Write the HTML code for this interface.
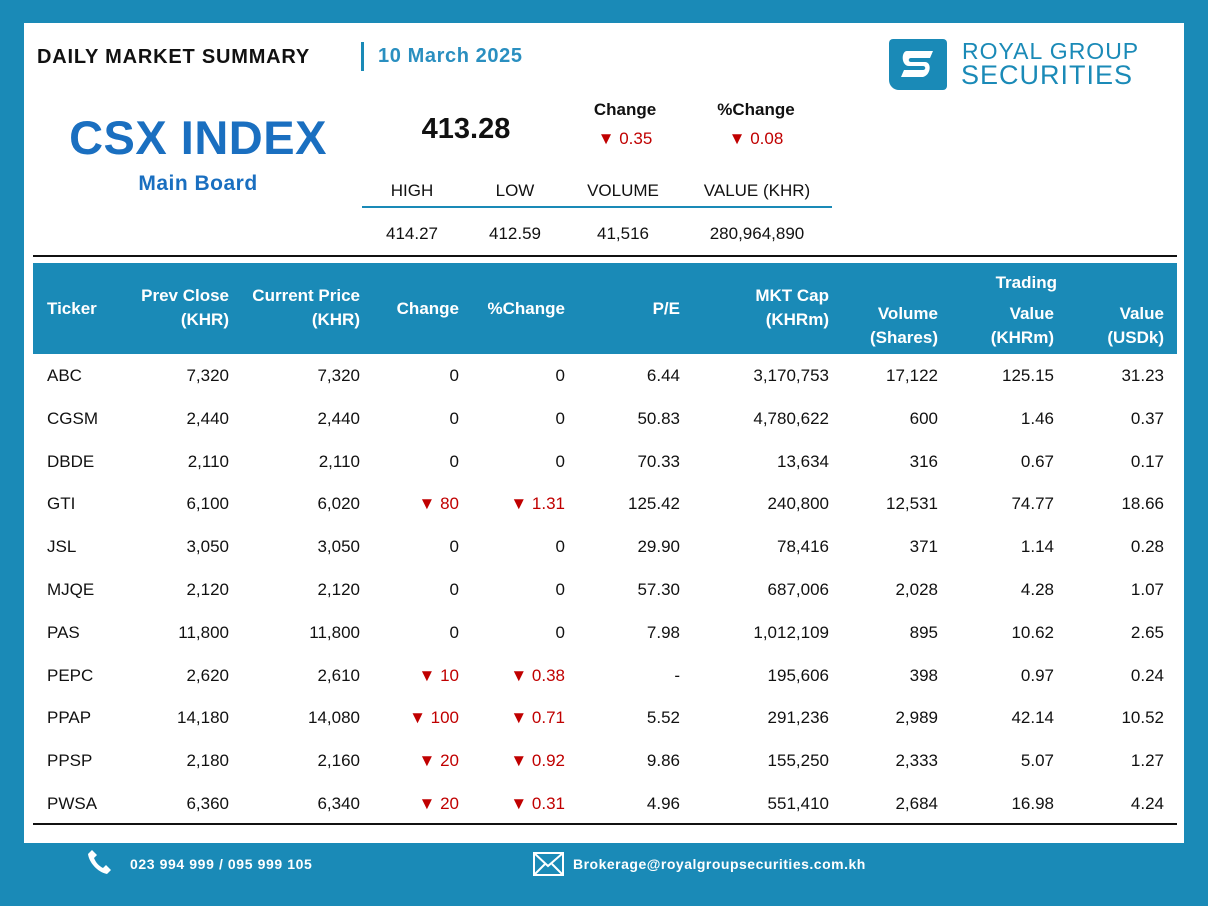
<!DOCTYPE html>
<html><head><meta charset="utf-8"><style>
body{margin:0;width:1208px;height:906px;background:#1a8ab7;font-family:"Liberation Sans",sans-serif;position:relative;overflow:hidden}
.a{position:absolute;white-space:nowrap}
#panel{position:absolute;left:24px;top:23px;width:1160px;height:820px;background:#fff}
.hd{color:#fff;font-weight:bold;font-size:17px;line-height:24px}
.c{font-size:17px;color:#111}
.red{color:#c00000}
</style></head><body>
<div id="panel"></div>
<div class="a" style="left:37px;top:46px;font-size:20px;font-weight:bold;color:#111;letter-spacing:0.8px">DAILY MARKET SUMMARY</div>
<div class="a" style="left:361px;top:42px;width:3px;height:29px;background:#1a8ab7"></div>
<div class="a" style="left:378px;top:45px;font-size:20px;font-weight:bold;color:#2a8fc0;letter-spacing:0.6px">10 March 2025</div>
<div class="a" style="left:48px;top:110px;width:300px;text-align:center;font-size:47px;font-weight:900;color:#1a6fc0;letter-spacing:0.5px">CSX INDEX</div>
<div class="a" style="left:48px;top:172px;width:300px;text-align:center;font-size:21px;font-weight:bold;color:#1a6fc0;letter-spacing:0.5px">Main Board</div>
<div class="a" style="left:366px;top:113px;width:200px;text-align:center;font-size:29px;font-weight:bold;color:#111">413.28</div>
<div class="a" style="left:565px;top:100px;width:120px;text-align:center;font-size:17px;font-weight:bold;color:#111">Change</div>
<div class="a red" style="left:565px;top:129px;width:120px;text-align:center;font-size:17px">▼ 0.35</div>
<div class="a" style="left:696px;top:100px;width:120px;text-align:center;font-size:17px;font-weight:bold;color:#111">%Change</div>
<div class="a red" style="left:696px;top:129px;width:120px;text-align:center;font-size:17px">▼ 0.08</div>
<div class="a c" style="left:362px;top:181px;width:100px;text-align:center">HIGH</div>
<div class="a c" style="left:465px;top:181px;width:100px;text-align:center">LOW</div>
<div class="a c" style="left:563px;top:181px;width:120px;text-align:center">VOLUME</div>
<div class="a c" style="left:677px;top:181px;width:160px;text-align:center">VALUE (KHR)</div>
<div class="a" style="left:362px;top:206px;width:470px;height:2px;background:#1a8ab7"></div>
<div class="a c" style="left:362px;top:224px;width:100px;text-align:center">414.27</div>
<div class="a c" style="left:465px;top:224px;width:100px;text-align:center">412.59</div>
<div class="a c" style="left:563px;top:224px;width:120px;text-align:center">41,516</div>
<div class="a c" style="left:677px;top:224px;width:160px;text-align:center">280,964,890</div>
<div class="a" style="left:889px;top:39px;width:58px;height:51px;background:#1a8ab7;border-radius:4px 4px 4px 10px">
<svg width="58" height="51"><path d="M18 12h26l-3 7H22c-3 0-3 4 0 4h14c7 0 6 13-2 15H12l3-7h19c3 0 3-4 0-4H20c-8 0-8-15-2-15z" fill="#fff"/></svg></div>
<div class="a" style="left:962px;top:38px;font-size:23px;color:#1a8ab7;letter-spacing:1px">ROYAL GROUP</div>
<div class="a" style="left:961px;top:60px;font-size:27px;color:#1a8ab7;letter-spacing:1px">SECURITIES</div>
<div class="a" style="left:33px;top:255px;width:1144px;height:2px;background:#111"></div>
<div class="a" style="left:33px;top:263px;width:1144px;height:91px;background:#1a8ab7"></div>
<div class="a" style="left:33px;top:823px;width:1144px;height:2px;background:#111"></div>
<div id="tbl"></div>
<svg class="a" style="left:86px;top:848px" width="28" height="28"><path d="M6 2l5 5-3 3c2 5 5 8 9 10l3-3 5 5-4 4C11 24 3 14 2 6z" fill="#fff"/></svg>
<div class="a" style="left:130px;top:856px;font-size:14px;font-weight:bold;color:#fff;letter-spacing:0.6px">023 994 999 / 095 999 105</div>
<svg class="a" style="left:533px;top:852px" width="31" height="24"><rect x="1" y="1" width="29" height="22" fill="none" stroke="#fff" stroke-width="2"/><path d="M1 1l14 13L30 1M1 23l11-11M30 23L19 12" fill="none" stroke="#fff" stroke-width="2"/></svg>
<div class="a" style="left:573px;top:856px;font-size:14px;font-weight:bold;color:#fff;letter-spacing:0.5px">Brokerage@royalgroupsecurities.com.kh</div>
<script>
const tickers=["ABC","CGSM","DBDE","GTI","JSL","MJQE","PAS","PEPC","PPAP","PPSP","PWSA"];
const prevClose=["7,320","2,440","2,110","6,100","3,050","2,120","11,800","2,620","14,180","2,180","6,360"];
const curPrice=["7,320","2,440","2,110","6,020","3,050","2,120","11,800","2,610","14,080","2,160","6,340"];
const changes=["0","0","0","80","0","0","0","10","100","20","20"];
const pctChanges=["0","0","0","1.31","0","0","0","0.38","0.71","0.92","0.31"];
const pe=["6.44","50.83","70.33","125.42","29.90","57.30","7.98","-","5.52","9.86","4.96"];
const mktCap=["3,170,753","4,780,622","13,634","240,800","78,416","687,006","1,012,109","195,606","291,236","155,250","551,410"];
const volumes=["17,122","600","316","12,531","371","2,028","895","398","2,989","2,333","2,684"];
const valKHR=["125.15","1.46","0.67","74.77","1.14","4.28","10.62","0.97","42.14","5.07","16.98"];
const valUSD=["31.23","0.37","0.17","18.66","0.28","1.07","2.65","0.24","10.52","1.27","4.24"];
const headers=[["Ticker",null,47,297],["Prev Close<br>(KHR)",229,0,284],["Current Price<br>(KHR)",360,0,284],["Change",459,0,297],["%Change",565,0,297],["P/E",680,0,297],["MKT Cap<br>(KHRm)",829,0,284],["Volume<br>(Shares)",938,0,302],["Value<br>(KHRm)",1054,0,302],["Value<br>(USDk)",1164,0,302]];
const tbl=document.getElementById('tbl');
function cell(txt,right,left,top,cls,name){
 const d=document.createElement('div');
 d.className='a '+cls;
 d.innerHTML=txt;
 d.style.top=top+'px';
 if(right!==null){d.style.right=(1208-right)+'px';d.style.textAlign='right';}else d.style.left=left+'px';
 
 
 tbl.appendChild(d);
}
headers.forEach(h=>cell(h[0],h[1],h[2],h[3],'hd','column-header'));
cell("Trading",1057,0,271,'hd','trading-group-header');
const cols=[tickers,prevClose,curPrice,changes,pctChanges,pe,mktCap,volumes,valKHR,valUSD];
tickers.forEach((t,i)=>{
 const y=366+i*42.8;
 cols.forEach((col,j)=>{
  let v=col[i],cls='c';
  if((j===3||j===4)&&v!=="0"){v='▼ '+v;cls+=' red';}
  cell(v,j===0?null:headers[j][1],47,y,cls,'cell-'+t.toLowerCase()+'-'+j);
 });
});
</script>
</body></html>
